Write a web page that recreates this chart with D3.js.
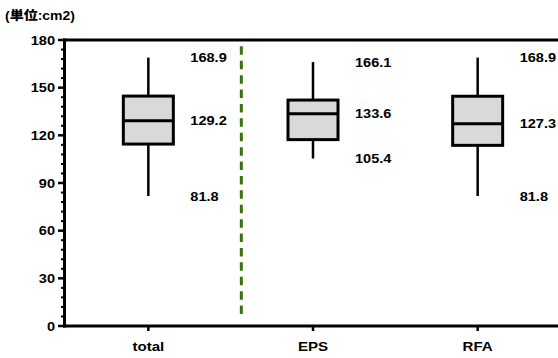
<!DOCTYPE html>
<html>
<head>
<meta charset="utf-8">
<script src="https://cdn.jsdelivr.net/npm/d3@7"></script>
<style>
  html, body { margin: 0; padding: 0; background: #fff; }
  svg { display: block; }
  text { font-family: "Liberation Sans", Arial, sans-serif; font-weight: bold; fill: #000; }
</style>
</head>
<body>
<svg id="chart" width="558" height="358"></svg>
<script>
// Box plot summaries per group (cm2)
const categories = ["total", "EPS", "RFA"];
const maxValues = [168.9, 166.1, 168.9];
const q3Values = [144.7, 142.2, 144.6];
const medianValues = [129.2, 133.6, 127.3];
const q1Values = [114.5, 117.3, 113.7];
const minValues = [81.8, 105.4, 81.8];
const yTicks = [0, 30, 60, 90, 120, 150, 180];
const unitLabel = "(単位:cm2)";

const W = 558, H = 358;
const svg = d3.select("#chart");
const TX = 1.12; // horizontal glyph stretch

const y = d3.scaleLinear().domain([0, 180]).range([326, 40]);
const x = d3.scaleBand().domain(categories).range([66, 560]).paddingInner(0).paddingOuter(0);
const cx = c => x(c) + x.bandwidth() / 2;

function label(g, px, py, str, anchor, size) {
  return g.append("text")
    .attr("transform", `translate(${px},${py}) scale(${TX},1)`)
    .attr("text-anchor", anchor)
    .attr("font-size", size)
    .text(str);
}

// unit caption
label(svg, 5, 20, unitLabel, "start", 12.5)
  .style("font-family", "'Liberation Sans', 'Noto Sans CJK JP', sans-serif")
  .style("font-weight", 900);

// y axis: minor ticks every 6, majors every 30
const yAxis = svg.append("g");
d3.range(0, 181, 6).forEach(v => {
  const major = v % 30 === 0;
  yAxis.append("line")
    .attr("x1", major ? 58 : 61).attr("x2", 64)
    .attr("y1", y(v)).attr("y2", y(v))
    .attr("stroke", "#000").attr("stroke-width", major ? 2.5 : 2);
});
yTicks.forEach(v => {
  label(yAxis, 55, y(v) + 4.7, String(v), "end", 13);
});

// frame: left spine, top line, baseline
svg.append("line").attr("x1", 64.5).attr("x2", 64.5).attr("y1", y(180) - 1.5).attr("y2", y(0) + 1.5)
  .attr("stroke", "#000").attr("stroke-width", 3);
svg.append("line").attr("x1", 63).attr("x2", W).attr("y1", y(180)).attr("y2", y(180))
  .attr("stroke", "#000").attr("stroke-width", 3);
svg.append("line").attr("x1", 63).attr("x2", W).attr("y1", y(0)).attr("y2", y(0))
  .attr("stroke", "#000").attr("stroke-width", 3);

// x axis ticks and category names
categories.forEach(c => {
  svg.append("line").attr("x1", cx(c)).attr("x2", cx(c))
    .attr("y1", y(0)).attr("y2", y(0) + 5)
    .attr("stroke", "#000").attr("stroke-width", 2.5);
  label(svg, cx(c), 350.5, c, "middle", 13.5);
});

// separator between total and the treatment groups
const sepX = cx("total") + 93;
svg.append("line")
  .attr("x1", sepX).attr("x2", sepX)
  .attr("y1", y(176)).attr("y2", y(5))
  .attr("stroke", "#3b720e").attr("stroke-width", 3)
  .attr("stroke-dasharray", "8.5 5.9");

// boxes
const boxW = 50;
categories.forEach((c, i) => {
  const g = svg.append("g");
  const m = cx(c);
  g.append("line").attr("x1", m).attr("x2", m)
    .attr("y1", y(maxValues[i])).attr("y2", y(q3Values[i]))
    .attr("stroke", "#000").attr("stroke-width", 2.5);
  g.append("line").attr("x1", m).attr("x2", m)
    .attr("y1", y(q1Values[i])).attr("y2", y(minValues[i]))
    .attr("stroke", "#000").attr("stroke-width", 2.5);
  g.append("rect")
    .attr("x", m - boxW / 2).attr("width", boxW)
    .attr("y", y(q3Values[i])).attr("height", y(q1Values[i]) - y(q3Values[i]))
    .attr("fill", "#d9d9d9").attr("stroke", "#000").attr("stroke-width", 3);
  g.append("line").attr("x1", m - boxW / 2).attr("x2", m + boxW / 2)
    .attr("y1", y(medianValues[i])).attr("y2", y(medianValues[i]))
    .attr("stroke", "#000").attr("stroke-width", 3);

  // value labels beside each box
  const lx = m + 42;
  [maxValues[i], medianValues[i], minValues[i]].forEach(v => {
    label(g, lx, y(v) + 4.7, v.toFixed(1), "start", 13);
  });
});
</script>
</body>
</html>
